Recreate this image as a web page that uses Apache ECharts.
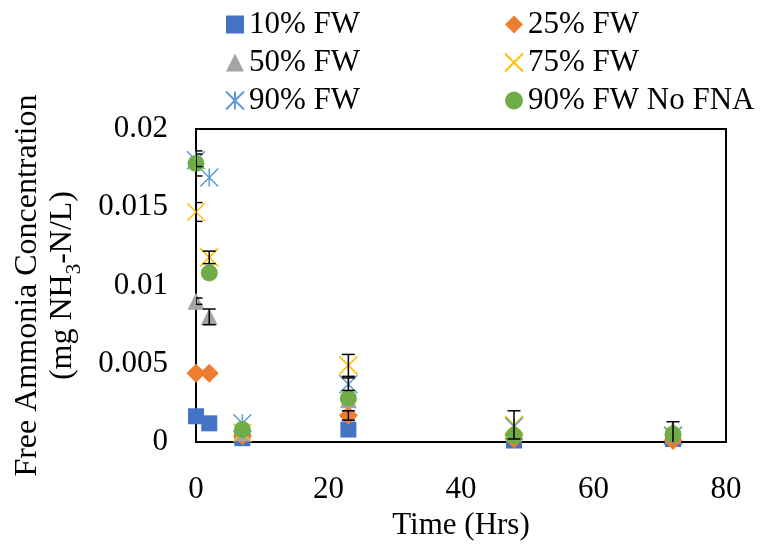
<!DOCTYPE html>
<html>
<head>
<meta charset="utf-8">
<script src="https://cdn.jsdelivr.net/npm/echarts@6/dist/echarts.min.js"></script>
<style>
  html, body { margin: 0; padding: 0; background: #fff; }
  #main { width: 764px; height: 546px; }
</style>
</head>
<body>
<div id="main"></div>
<script>
// sampling times (hours)
const times = [0, 2, 7, 23, 48, 72];

const fw10 = [0.00165, 0.0012, 0.00025, 0.0008, 0.0001, 0.0002];
const fw25 = [0.0044, 0.0044, 0.0004, 0.0017, 0.0002, 0.0001];
const fw50 = [0.009, 0.008, 0.0006, 0.0027, 0.0006, 0.0008];
const fw75 = [0.0147, 0.0118, 0.0006, 0.0049, 0.0011, 0.0004];
const fw90 = [0.018, 0.0169, 0.0012, 0.0037, 0.001, 0.0004];
const fw90NoFna = [0.0178, 0.0108, 0.0008, 0.0028, 0.0004, 0.0005];

// error bar half widths
const err10 = [0, 0, 0, 0, 0, 0];
const err25 = [0, 0, 0, 0.0003, 0, 0];
const err50 = [0.0002, 0.0005, 0, 0, 0, 0];
const err75 = [0.0006, 0.0004, 0, 0.0007, 0.0009, 0.0009];
const err90 = [0.0004, 0, 0, 0.0004, 0, 0];
const errNoFna = [0.0008, 0, 0, 0, 0, 0];

const xTicks = ['0', '20', '40', '60', '80'];
const yTicks = ['0', '0.005', '0.01', '0.015', '0.02'];

const FONT = 'Liberation Serif';
const CROSS = 'path://M0,0L20,20M20,0L0,20';
const STAR = 'path://M0,0L20,20M20,0L0,20M10,0L10,20';

function pts(vals) {
  return times.map((t, i) => [t, vals[i]]);
}

function errData(vals, errs) {
  return times.map((t, i) => [t, vals[i], errs[i]]);
}

function errorBars(vals, errs) {
  return {
    type: 'custom',
    z: 5,
    clip: true,
    silent: true,
    data: errData(vals, errs),
    renderItem: function (params, api) {
      let e = api.value(2);
      if (!e) return null;
      let x = api.value(0), y = api.value(1);
      let top = api.coord([x, y + e]);
      let bot = api.coord([x, y - e]);
      let w = 6.5;
      let style = { stroke: '#000', lineWidth: 1.5 };
      return {
        type: 'group',
        children: [
          { type: 'line', shape: { x1: top[0], y1: top[1], x2: bot[0], y2: bot[1] }, style: style },
          { type: 'line', shape: { x1: top[0] - w, y1: top[1], x2: top[0] + w, y2: top[1] }, style: style },
          { type: 'line', shape: { x1: bot[0] - w, y1: bot[1], x2: bot[0] + w, y2: bot[1] }, style: style }
        ]
      };
    }
  };
}

function scatter(name, vals, symbol, size, color, outline) {
  let s = {
    name: name,
    type: 'scatter',
    data: pts(vals),
    symbol: symbol,
    symbolSize: size,
    z: 3,
    itemStyle: { color: color, opacity: 1 }
  };
  if (outline) {
    s.itemStyle = { color: 'rgba(0,0,0,0)', borderColor: color, borderWidth: 1.5, opacity: 1 };
  }
  return s;
}

const legendText = { fontFamily: FONT, fontSize: 31, color: '#000', lineHeight: 31 };

const chart = echarts.init(document.getElementById('main'));

chart.setOption({
  backgroundColor: '#fff',
  animation: false,
  grid: {
    left: 196, right: 38, top: 129, bottom: 103,
    show: true, borderColor: '#000', borderWidth: 2
  },
  legend: [
    {
      orient: 'vertical', left: 220, top: 4, itemGap: 7,
      itemWidth: 18, itemHeight: 18, textStyle: legendText,
      data: ['10% FW', '50% FW', '90% FW']
    },
    {
      orient: 'vertical', left: 499, top: 4, itemGap: 7,
      itemWidth: 18, itemHeight: 18, textStyle: legendText,
      data: ['25% FW', '75% FW', '90% FW No FNA']
    }
  ],
  xAxis: {
    type: 'value', min: 0, max: 80, interval: 20,
    name: 'Time (Hrs)', nameLocation: 'middle', nameGap: 64,
    nameTextStyle: { fontFamily: FONT, fontSize: 31, color: '#000' },
    axisLine: { show: true, lineStyle: { color: '#000', width: 2 } },
    axisTick: { show: false },
    splitLine: { show: false },
    axisLabel: {
      margin: 32, fontFamily: FONT, fontSize: 31, color: '#000',
      formatter: (v, i) => xTicks[i]
    }
  },
  yAxis: {
    type: 'value', min: 0, max: 0.02, interval: 0.005,
    name: '{a|Free Ammonia Concentration}\n{a|(mg NH}{s|3}{a|-N/L)}',
    nameLocation: 'middle', nameRotate: 90, nameGap: 116,
    nameTextStyle: {
      fontFamily: FONT, fontSize: 32, color: '#000', lineHeight: 35,
      rich: {
        a: { fontFamily: FONT, fontSize: 32, color: '#000', lineHeight: 35 },
        s: { fontFamily: FONT, fontSize: 21, color: '#000', lineHeight: 35, verticalAlign: 'bottom', padding: [0, 0, -5, 0] }
      }
    },
    axisLine: { show: true, lineStyle: { color: '#000', width: 2 } },
    axisTick: { show: false },
    splitLine: { show: false },
    axisLabel: {
      margin: 28, fontFamily: FONT, fontSize: 31, color: '#000',
      formatter: (v, i) => yTicks[i]
    }
  },
  series: [
    scatter('10% FW', fw10, 'rect', 16, '#4472C4'),
    scatter('25% FW', fw25, 'diamond', 19, '#ED7D31'),
    scatter('50% FW', fw50, 'triangle', 17, '#A5A5A5'),
    scatter('75% FW', fw75, CROSS, 18, '#FFC000', true),
    scatter('90% FW', fw90, STAR, 18, '#5B9BD5', true),
    scatter('90% FW No FNA', fw90NoFna, 'circle', 17, '#70AD47'),
    errorBars(fw10, err10),
    errorBars(fw25, err25),
    errorBars(fw50, err50),
    errorBars(fw75, err75),
    errorBars(fw90, err90),
    errorBars(fw90NoFna, errNoFna)
  ]
});
</script>
</body>
</html>
